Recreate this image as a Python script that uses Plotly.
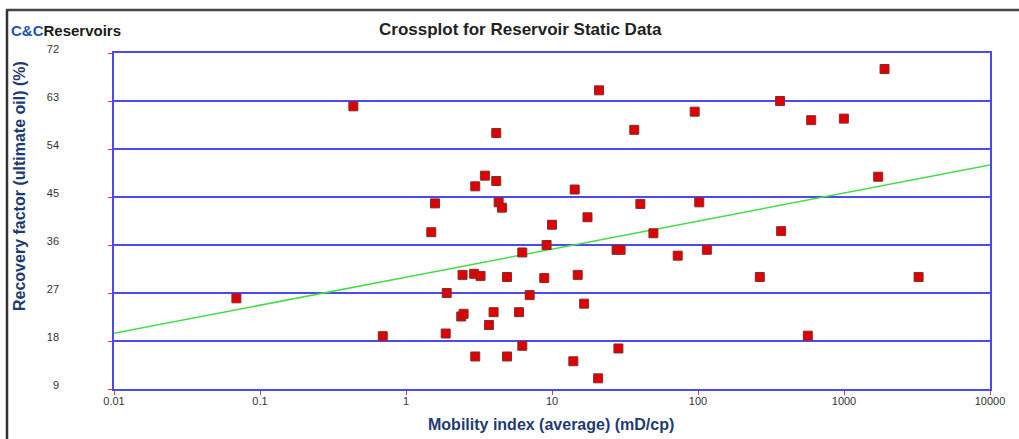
import plotly.graph_objects as go

# ---- data ----
mobility = [0.436, 0.0689, 0.693, 1.58, 1.49, 1.87, 1.90, 2.39, 2.48, 2.44,
            2.98, 2.93, 3.24, 2.98, 3.47, 4.15, 4.15, 4.31, 4.54, 3.98,
            3.70, 4.92, 4.92, 5.94, 6.26, 6.26, 7.03, 8.85, 9.18, 10.0,
            21.0, 14.3, 17.5, 15.0, 16.6, 14.0, 20.7, 28.5, 27.7, 29.5,
            36.6, 40.3, 49.5, 72.6, 94.9, 102, 115, 265, 365, 371,
            565, 596, 998, 1715, 1895, 3242]
recovery = [62.0, 26.0, 18.9, 43.8, 38.4, 19.4, 27.0, 22.6, 23.1, 30.4,
            47.0, 30.6, 30.2, 15.1, 49.0, 57.0, 48.0, 44.0, 43.0, 23.4,
            21.0, 30.0, 15.1, 23.4, 17.1, 34.6, 26.6, 29.8, 36.0, 39.8,
            65.0, 46.4, 41.2, 30.4, 25.0, 14.2, 11.0, 16.6, 35.1, 35.1,
            57.6, 43.7, 38.2, 34.0, 61.0, 44.0, 35.1, 30.0, 63.0, 38.6,
            19.0, 59.4, 59.7, 48.8, 69.0, 30.0]
trend_x = [0.01, 10000]
trend_y = [19.45, 51.0]
x_tickvals = [0.01, 0.1, 1, 10, 100, 1000, 10000]
x_ticktext = ["0.01", "0.1", "1", "10", "100", "1000", "10000"]
y_tickvals = [9, 18, 27, 36, 45, 54, 63, 72]

# ---- style ----
W, H = 1019, 439
L, R, T, B = 114, 990, 53, 389
BLUE = "#4a4af0"
TICKRED = "#e03a3a"
TXT = "#333333"
NAVY = "#1f3b73"
FONT = "Liberation Sans, Arial"


def px(xp):
    return (xp - L) / (R - L)


def py(yp):
    return (B - yp) / (B - T)


fig = go.Figure()
fig.add_trace(go.Scatter(x=trend_x, y=trend_y, mode="lines",
                         line=dict(color="#44dd44", width=1.5),
                         hoverinfo="skip", showlegend=False))
fig.add_trace(go.Scatter(x=mobility, y=recovery, mode="markers",
                         marker=dict(symbol="square", size=9, color="#e00000",
                                     line=dict(color="#803030", width=1)),
                         showlegend=False))

fig.update_xaxes(type="log", range=[-2, 4], tickvals=x_tickvals, ticktext=x_ticktext,
                 showgrid=False, zeroline=False, showline=True, linecolor=BLUE,
                 linewidth=1.5, mirror=True, ticks="outside", ticklen=4,
                 tickcolor=TICKRED, tickwidth=1, ticklabelstandoff=-3,
                 tickfont=dict(family=FONT, size=11, color=TXT))
fig.update_yaxes(range=[9, 72], tickvals=y_tickvals, showgrid=True, gridcolor=BLUE,
                 gridwidth=1.5, zeroline=False, showline=True, linecolor=BLUE,
                 linewidth=1.5, mirror=True, ticks="outside", ticklen=4,
                 tickcolor=TICKRED, tickwidth=1, ticklabelstandoff=47,
                 ticklabelshift=-4,
                 tickfont=dict(family=FONT, size=11, color=TXT))

ann = [
    dict(x=px(520), y=py(29), text="<b>Crossplot for Reservoir Static Data</b>",
         font=dict(family=FONT, size=17, color="#222222")),
    dict(x=px(551), y=py(424), text="<b>Mobility index (average) (mD/cp)</b>",
         font=dict(family=FONT, size=16, color=NAVY)),
    dict(x=px(19), y=py(186), text="<b>Recovery factor (ultimate oil) (%)</b>", textangle=-90,
         font=dict(family=FONT, size=16, color=NAVY)),
    dict(x=px(66), y=py(30),
         text="<b><span style='color:#1f56a8'>C&amp;C</span>Reservoirs</b>",
         font=dict(family=FONT, size=15, color="#1a1a1a")),
]
for a in ann:
    a.update(xref="paper", yref="paper", showarrow=False,
             xanchor="center", yanchor="middle")

shapes = [
    dict(type="line", xref="paper", yref="paper", x0=px(6), x1=px(1019), y0=py(10), y1=py(10),
         line=dict(color="#444444", width=2.5)),
    dict(type="line", xref="paper", yref="paper", x0=px(7), x1=px(7), y0=py(10), y1=py(439),
         line=dict(color="#333333", width=2.5)),
]

fig.update_layout(width=W, height=H, margin=dict(l=L, r=W - R, t=T, b=H - B),
                  paper_bgcolor="white", plot_bgcolor="white",
                  annotations=ann, shapes=shapes, showlegend=False)
fig.write_html("out.html", config={"displayModeBar": False},
               post_script="document.body.style.margin='0';document.body.style.overflow='hidden';")
